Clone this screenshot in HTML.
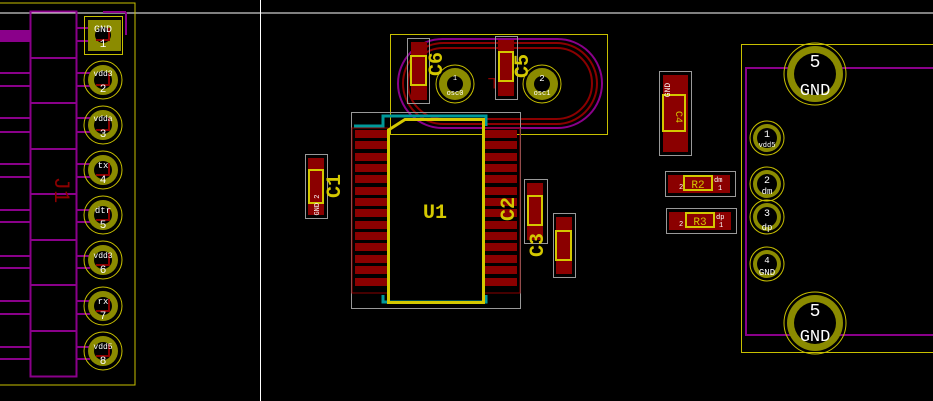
<!DOCTYPE html>
<html><head><meta charset="utf-8"><style>
html,body{margin:0;padding:0;background:#000;}
svg{display:block}
text{font-family:"Liberation Mono","DejaVu Sans Mono",monospace;}
</style></head><body>
<svg width="933" height="401" viewBox="0 0 933 401" xmlns="http://www.w3.org/2000/svg">
<rect width="933" height="401" fill="#000"/>
<line x1="0" y1="13" x2="933" y2="13" stroke="#fff" stroke-width="1"/>
<line x1="260.5" y1="0" x2="260.5" y2="401" stroke="#fff" stroke-width="1"/>

<rect x="-5" y="3" width="140" height="382" fill="none" stroke="#c8c000" stroke-width="1"/>
<rect x="0" y="30" width="30" height="12" fill="#8a008a"/>
<g stroke="#8a008a" stroke-width="2" fill="none">
<rect x="30.5" y="11.5" width="46" height="365"/>
<line x1="30" y1="58" x2="77" y2="58"/><line x1="30" y1="103" x2="77" y2="103"/>
<line x1="30" y1="149" x2="77" y2="149"/><line x1="30" y1="194" x2="77" y2="194"/>
<line x1="30" y1="240" x2="77" y2="240"/><line x1="30" y1="285" x2="77" y2="285"/>
<line x1="30" y1="331" x2="77" y2="331"/>
<line x1="103" y1="12" x2="126" y2="12"/><line x1="126" y1="12" x2="126" y2="35"/>
</g>
<g stroke-width="2"><g stroke="#8a008a">
<line x1="0" y1="73" x2="30" y2="73"/><line x1="0" y1="86" x2="30" y2="86"/>
<line x1="0" y1="118" x2="30" y2="118"/><line x1="0" y1="132" x2="30" y2="132"/>
<line x1="0" y1="164" x2="30" y2="164"/><line x1="0" y1="177" x2="30" y2="177"/>
<line x1="0" y1="210" x2="30" y2="210"/><line x1="0" y1="222" x2="30" y2="222"/>
<line x1="0" y1="256" x2="30" y2="256"/><line x1="0" y1="268" x2="30" y2="268"/>
<line x1="0" y1="301" x2="30" y2="301"/><line x1="0" y1="314" x2="30" y2="314"/>
<line x1="0" y1="347" x2="30" y2="347"/><line x1="0" y1="359" x2="30" y2="359"/>
<line x1="77" y1="28" x2="90" y2="28"/><line x1="77" y1="41" x2="90" y2="41"/>
<line x1="77" y1="73" x2="90" y2="73"/><line x1="77" y1="86" x2="90" y2="86"/>
<line x1="77" y1="118" x2="90" y2="118"/><line x1="77" y1="132" x2="90" y2="132"/>
<line x1="77" y1="164" x2="90" y2="164"/><line x1="77" y1="177" x2="90" y2="177"/>
<line x1="77" y1="210" x2="90" y2="210"/><line x1="77" y1="222" x2="90" y2="222"/>
<line x1="77" y1="256" x2="90" y2="256"/><line x1="77" y1="268" x2="90" y2="268"/>
<line x1="77" y1="301" x2="90" y2="301"/><line x1="77" y1="314" x2="90" y2="314"/>
<line x1="77" y1="347" x2="90" y2="347"/><line x1="77" y1="359" x2="90" y2="359"/>
</g></g>
<text x="55" y="190" fill="#8b0000" font-size="22" transform="rotate(90 55 190)" text-anchor="middle">J1</text>
<rect x="84.5" y="16.5" width="38" height="38" fill="none" stroke="#c8c000"/>
<rect x="88" y="20" width="33" height="31" fill="#8b8b00"/>
<circle cx="103" cy="35" r="8" fill="#000"/>
<g fill="none" stroke="#c8c000" stroke-width="1">
<circle cx="103" cy="80" r="19"/><circle cx="103" cy="125" r="19"/><circle cx="103" cy="170" r="19"/>
<circle cx="103" cy="215" r="19"/><circle cx="103" cy="260" r="19"/><circle cx="103" cy="306" r="19"/><circle cx="103" cy="351" r="19"/>
</g>
<g fill="#8b8b00">
<circle cx="103" cy="80" r="15"/><circle cx="103" cy="125" r="15"/><circle cx="103" cy="170" r="15"/>
<circle cx="103" cy="215" r="15"/><circle cx="103" cy="260" r="15"/><circle cx="103" cy="306" r="15"/><circle cx="103" cy="351" r="15"/>
</g>
<g fill="#000">
<circle cx="103" cy="80" r="9"/><circle cx="103" cy="125" r="9"/><circle cx="103" cy="170" r="9"/>
<circle cx="103" cy="215" r="9"/><circle cx="103" cy="260" r="9"/><circle cx="103" cy="306" r="9"/><circle cx="103" cy="351" r="9"/>
</g>
<g fill="none" stroke="#8b0000" stroke-width="2">
<path d="M96 40 H109 V28"/><path d="M96 85 H109 V73"/><path d="M96 130 H109 V118"/><path d="M96 175 H109 V163"/>
<path d="M96 220 H109 V208"/><path d="M96 265 H109 V253"/><path d="M96 311 H109 V299"/><path d="M96 356 H109 V344"/>
</g>
<g fill="#fff" font-size="9" text-anchor="middle">
<text x="103" y="32" font-size="10">GND</text><text x="103" y="47" font-size="11">1</text>
<text x="103" y="76" font-size="8">vdd3</text><text x="103" y="92" font-size="11">2</text>
<text x="103" y="121" font-size="8">vdda</text><text x="103" y="137" font-size="11">3</text>
<text x="103" y="168">tx</text><text x="103" y="183" font-size="11">4</text>
<text x="103" y="213">dtr</text><text x="103" y="228" font-size="11">5</text>
<text x="103" y="258" font-size="8">vdd3</text><text x="103" y="273" font-size="11">6</text>
<text x="103" y="304">rx</text><text x="103" y="319" font-size="11">7</text>
<text x="103" y="349" font-size="8">vdd5</text><text x="103" y="364" font-size="11">8</text>
</g>

<rect x="390.5" y="34.5" width="217" height="100" fill="none" stroke="#c8c000"/>
<rect x="398" y="39" width="204" height="89" rx="44.5" fill="none" stroke="#8a008a" stroke-width="2"/>
<rect x="403" y="43" width="194" height="81" rx="40.5" fill="none" stroke="#8b0000" stroke-width="2"/>
<rect x="408" y="48" width="184" height="71" rx="35.5" fill="none" stroke="#8b0000" stroke-width="2"/>
<g fill="none" stroke="#c8c000"><circle cx="455" cy="84" r="19"/><circle cx="542" cy="84" r="19"/></g>
<g fill="#8b8b00"><circle cx="455" cy="84" r="16"/><circle cx="542" cy="84" r="16"/></g>
<g fill="#000"><circle cx="455" cy="84" r="8"/><circle cx="542" cy="84" r="8"/></g>
<g fill="#fff" font-size="7" text-anchor="middle"><text x="455" y="80">1</text><text x="455" y="95">osc0</text><text x="542" y="81" font-size="9">2</text><text x="542" y="95">osc1</text></g>
<text x="492" y="90" fill="#8b0000" font-size="16" transform="rotate(180 492 84)" text-anchor="middle">L</text>

<rect x="351.5" y="112.5" width="169" height="196" fill="none" stroke="#999"/>
<path d="M354 126 H383 V116 H486 V126" fill="none" stroke="#00999a" stroke-width="3"/>
<path d="M383 295 V302 H486 V295" fill="none" stroke="#00999a" stroke-width="3"/>
<rect x="352" y="128" width="36" height="165" fill="none" stroke="#8b0000"/>
<rect x="484" y="128" width="36" height="165" fill="none" stroke="#8b0000"/>
<g id="lp" fill="#8b0000">
<rect x="355" y="130" width="33" height="8"/><rect x="355" y="141" width="33" height="8"/><rect x="355" y="153" width="33" height="8"/><rect x="355" y="164" width="33" height="8"/>
<rect x="355" y="175" width="33" height="8"/><rect x="355" y="187" width="33" height="8"/><rect x="355" y="198" width="33" height="8"/><rect x="355" y="209" width="33" height="8"/>
<rect x="355" y="221" width="33" height="8"/><rect x="355" y="232" width="33" height="8"/><rect x="355" y="243" width="33" height="8"/><rect x="355" y="255" width="33" height="8"/>
<rect x="355" y="266" width="33" height="8"/><rect x="355" y="278" width="33" height="8"/>
</g>
<use href="#lp" x="129"/>
<path d="M388.5 130 L405 119.5 H483.5 V302.5 H388.5 Z" fill="none" stroke="#d4c800" stroke-width="3"/>
<text x="435" y="218" fill="#d4c800" font-size="20" font-weight="bold" text-anchor="middle">U1</text>

<rect x="305.5" y="154.5" width="22" height="64" fill="none" stroke="#999"/>
<rect x="308" y="158" width="16" height="57" fill="#8b0000"/>
<rect x="309" y="170" width="14" height="33" fill="none" stroke="#d4c800" stroke-width="2"/>
<text x="340" y="186" fill="#d4c800" font-size="20" transform="rotate(-90 340 186)" text-anchor="middle" font-weight="bold">C1</text>
<text x="319" y="205" fill="#fff" font-size="7" transform="rotate(-90 319 205)" text-anchor="middle">GND 2</text>

<rect x="407.5" y="38.5" width="22" height="65" fill="none" stroke="#999"/>
<rect x="411" y="42" width="16" height="58" fill="#8b0000"/>
<rect x="411" y="56" width="15" height="29" fill="none" stroke="#d4c800" stroke-width="2"/>
<text x="442" y="64" fill="#d4c800" font-size="20" transform="rotate(-90 442 64)" text-anchor="middle" font-weight="bold">C6</text>

<rect x="495.5" y="36.5" width="22" height="63" fill="none" stroke="#999"/>
<rect x="498" y="40" width="16" height="56" fill="#8b0000"/>
<rect x="499" y="52" width="14" height="29" fill="none" stroke="#d4c800" stroke-width="2"/>
<text x="528" y="66" fill="#d4c800" font-size="20" transform="rotate(-90 528 66)" text-anchor="middle" font-weight="bold">C5</text>

<rect x="524.5" y="179.5" width="23" height="64" fill="none" stroke="#999"/>
<rect x="527" y="183" width="16" height="57" fill="#8b0000"/>
<rect x="528" y="196" width="14" height="29" fill="none" stroke="#d4c800" stroke-width="2"/>
<text x="514" y="209" fill="#d4c800" font-size="20" transform="rotate(-90 514 209)" text-anchor="middle" font-weight="bold">C2</text>

<rect x="553.5" y="213.5" width="22" height="64" fill="none" stroke="#999"/>
<rect x="556" y="217" width="16" height="57" fill="#8b0000"/>
<rect x="556" y="231" width="15" height="29" fill="none" stroke="#d4c800" stroke-width="2"/>
<text x="543" y="245" fill="#d4c800" font-size="20" transform="rotate(-90 543 245)" text-anchor="middle" font-weight="bold">C3</text>

<rect x="659.5" y="71.5" width="32" height="84" fill="none" stroke="#999"/>
<rect x="663" y="75" width="25" height="77" fill="#8b0000"/>
<rect x="663" y="95" width="22" height="36" fill="none" stroke="#d4c800" stroke-width="2"/>
<text x="680" y="113" fill="#d4c800" font-size="10" transform="rotate(90 676 113)" text-anchor="middle">C4</text>
<text x="670" y="90" fill="#fff" font-size="8" transform="rotate(-90 670 90)" text-anchor="middle">GND</text>

<rect x="665.5" y="171.5" width="70" height="25" fill="none" stroke="#999"/>
<rect x="668" y="175" width="62" height="18" fill="#8b0000"/>
<rect x="684" y="176" width="28" height="14" fill="none" stroke="#d4c800" stroke-width="2"/>
<text x="698" y="188" fill="#d4c800" font-size="11" text-anchor="middle">R2</text>
<text x="679" y="189" fill="#fff" font-size="7">2</text><text x="714" y="182" fill="#fff" font-size="7">dm</text><text x="718" y="190" fill="#fff" font-size="7">1</text>

<rect x="666.5" y="208.5" width="70" height="25" fill="none" stroke="#999"/>
<rect x="669" y="212" width="62" height="18" fill="#8b0000"/>
<rect x="686" y="213" width="28" height="14" fill="none" stroke="#d4c800" stroke-width="2"/>
<text x="700" y="225" fill="#d4c800" font-size="11" text-anchor="middle">R3</text>
<text x="679" y="226" fill="#fff" font-size="7">2</text><text x="716" y="219" fill="#fff" font-size="7">dp</text><text x="719" y="227" fill="#fff" font-size="7">1</text>

<rect x="741.5" y="44.5" width="200" height="308" fill="none" stroke="#c8c000"/>
<rect x="746" y="68" width="200" height="267" fill="none" stroke="#8a008a" stroke-width="2"/>
<g fill="none" stroke="#c8c000">
<circle cx="815" cy="74" r="31"/><circle cx="815" cy="323" r="31"/>
<circle cx="767" cy="138" r="17"/><circle cx="767" cy="184" r="17"/><circle cx="767" cy="217" r="17"/><circle cx="767" cy="264" r="17"/>
</g>
<g fill="#8b8b00">
<circle cx="815" cy="74" r="28"/><circle cx="815" cy="323" r="28"/>
<circle cx="767" cy="138" r="14"/><circle cx="767" cy="184" r="14"/><circle cx="767" cy="217" r="14"/><circle cx="767" cy="264" r="14"/>
</g>
<g fill="#000">
<circle cx="815" cy="74" r="21"/><circle cx="815" cy="323" r="21"/>
<circle cx="767" cy="138" r="10"/><circle cx="767" cy="184" r="10"/><circle cx="767" cy="217" r="10"/><circle cx="767" cy="264" r="10"/>
</g>
<g fill="#fff" text-anchor="middle">
<text x="815" y="67" font-size="18">5</text><text x="815" y="95" font-size="17">GND</text>
<text x="815" y="316" font-size="18">5</text><text x="815" y="341" font-size="17">GND</text>
<text x="767" y="137" font-size="10">1</text><text x="767" y="147" font-size="7">vdd5</text>
<text x="767" y="183" font-size="10">2</text><text x="767" y="194" font-size="9">dm</text>
<text x="767" y="216" font-size="10">3</text><text x="767" y="230" font-size="9">dp</text>
<text x="767" y="263" font-size="9">4</text><text x="767" y="275" font-size="9">GND</text>
</g>
</svg>
</body></html>
